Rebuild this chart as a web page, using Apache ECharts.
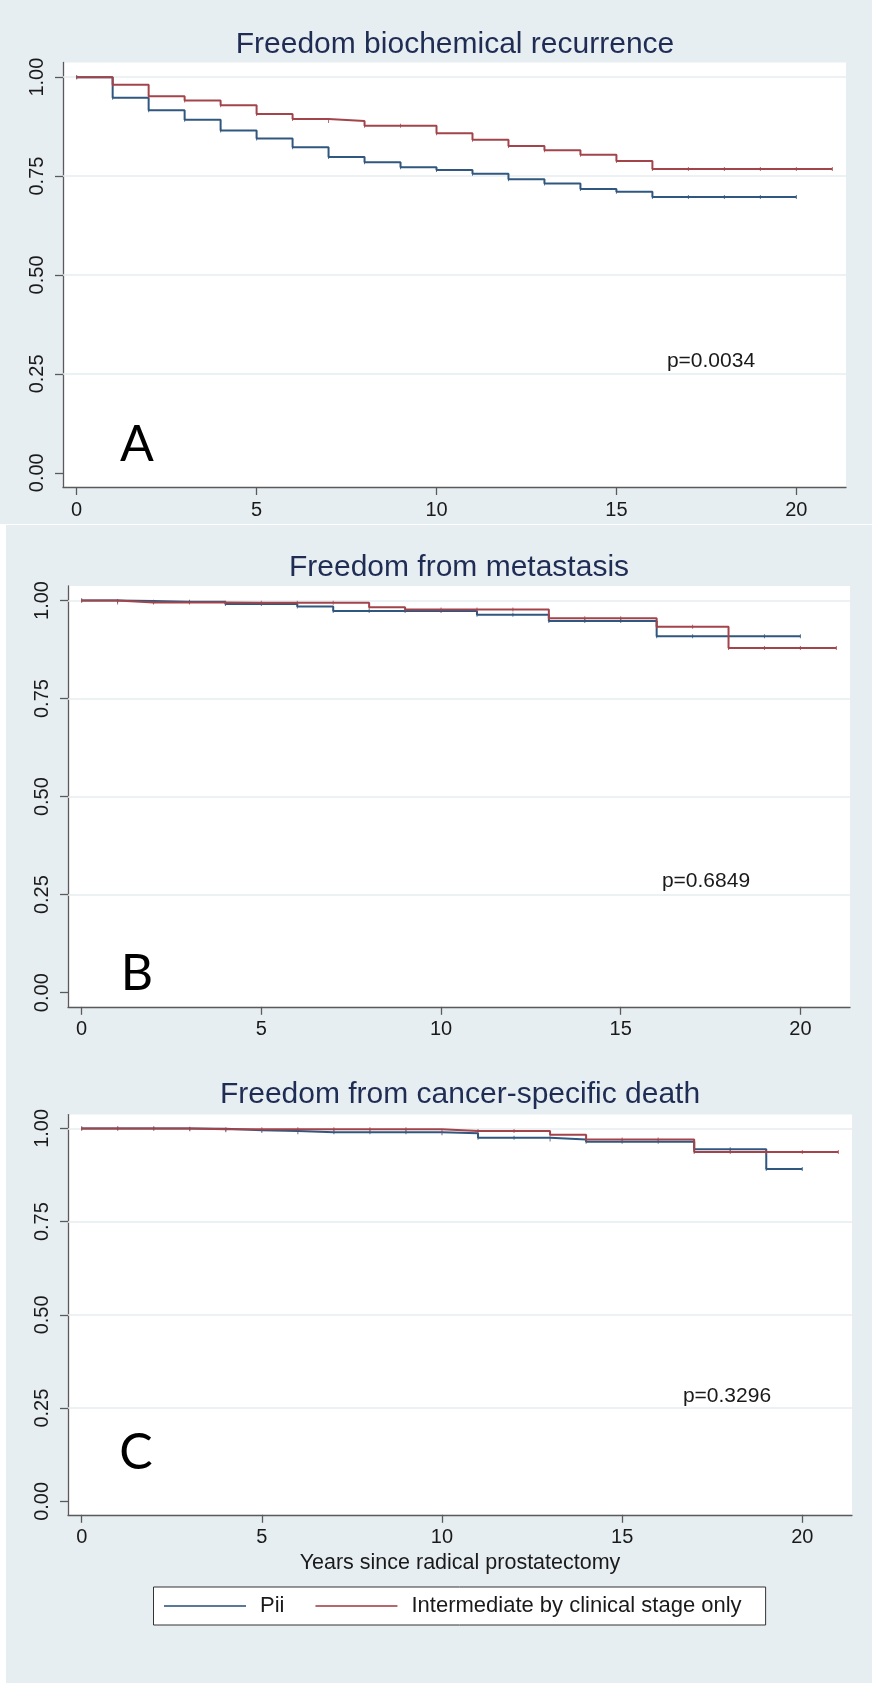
<!DOCTYPE html>
<html>
<head>
<meta charset="utf-8">
<script src="https://cdn.jsdelivr.net/npm/echarts@6/dist/echarts.min.js"></script>
<style>
  html, body { margin: 0; padding: 0; background: #ffffff; }
  #wrap { position: relative; width: 872px; height: 1683px; }
  .bg { position: absolute; background: #e7eef1; }
  #chart { position: absolute; left: 0; top: 0; width: 872px; height: 1683px; }
</style>
</head>
<body>
<div id="wrap">
  <div class="bg" style="left:0;top:0;width:872px;height:524px;"></div>
  <div class="bg" style="left:6px;top:525px;width:866px;height:1158px;"></div>
  <div id="chart"></div>
</div>
<script>
// ---- data ----
const years = [0,1,2,3,4,5,6,7,8,9,10,11,12,13,14,15,16,17,18,19,20,21];
const xTicks = [0, 5, 10, 15, 20];
const yTicks = [0, 0.25, 0.5, 0.75, 1];
const seriesNames = ['Pii', 'Intermediate by clinical stage only'];
const panelTitles = ['Freedom biochemical recurrence', 'Freedom from metastasis', 'Freedom from cancer-specific death'];
const panelLetters = ['A', 'B', 'C'];
const pValues = ['p=0.0034', 'p=0.6849', 'p=0.3296'];
const xAxisTitle = 'Years since radical prostatectomy';

// value for interval [year, year+1); last entry closes the curve
const bcrPii = [1.000,0.948,0.916,0.892,0.865,0.845,0.823,0.798,0.785,0.772,0.765,0.756,0.742,0.731,0.717,0.710,0.697,0.697,0.697,0.697,0.697];
const bcrInt = [1.000,0.981,0.952,0.941,0.929,0.907,0.894,0.889,0.877,0.877,0.858,0.842,0.826,0.815,0.804,0.788,0.768,0.768,0.768,0.768,0.768,0.768];
const metPii = [1.000,0.999,0.997,0.997,0.991,0.991,0.985,0.973,0.973,0.973,0.973,0.964,0.964,0.948,0.948,0.948,0.909,0.909,0.909,0.909,0.909];
const metInt = [1.000,0.995,0.995,0.995,0.994,0.994,0.994,0.994,0.983,0.977,0.977,0.977,0.977,0.955,0.955,0.955,0.933,0.933,0.879,0.879,0.879,0.879];
const csdPii = [1.000,1.000,1.000,0.999,0.995,0.993,0.990,0.990,0.990,0.990,0.987,0.975,0.975,0.970,0.964,0.964,0.964,0.944,0.944,0.891,0.891];
const csdInt = [1.000,1.000,1.000,0.998,0.998,0.998,0.998,0.998,0.998,0.998,0.993,0.993,0.993,0.983,0.970,0.970,0.970,0.937,0.937,0.937,0.937,0.937];

// ---- styling / layout ----
const BLUE = '#30577f';
const RED = '#a3444b';
const FONT = '"Liberation Sans", Arial, sans-serif';
const grids = [
  { left: 63, top: 62.5, width: 783, height: 424.5 },
  { left: 68, top: 586, width: 782, height: 420.8 },
  { left: 68, top: 1114.6, width: 784, height: 400.2 }
];
const titleCenters = [[455, 29.5], [459, 552.5], [460, 1079.5]];
const pPos = [[711, 361], [706, 881], [727, 1396]];
const letterPos = [[137, 445], [137, 974], [136, 1453]];

const curves = [[bcrPii, bcrInt], [metPii, metInt], [csdPii, csdInt]];

const xAxes = grids.map((g, i) => ({
  type: 'value', gridIndex: i, min: -0.38, max: 21.38,
  axisLine: { show: true, onZero: false, lineStyle: { color: '#5a5a5a', width: 1.3 } },
  axisTick: { show: true, customValues: xTicks, length: 8, lineStyle: { color: '#5a5a5a', width: 1.3 } },
  axisLabel: { customValues: xTicks, fontSize: 20, fontFamily: FONT, color: '#1a1a1a', margin: 13 },
  splitLine: { show: false },
  name: i === 2 ? xAxisTitle : '',
  nameLocation: 'middle', nameGap: 37,
  nameTextStyle: { fontSize: 21.5, fontFamily: FONT, color: '#1a1a1a' }
}));
const yAxes = grids.map((g, i) => ({
  type: 'value', gridIndex: i, min: -0.036, max: 1.037,
  axisLine: { show: true, onZero: false, lineStyle: { color: '#5a5a5a', width: 1.3 } },
  axisTick: { show: true, customValues: yTicks, length: 8, lineStyle: { color: '#5a5a5a', width: 1.3 } },
  axisLabel: { customValues: yTicks, rotate: 90, fontSize: 20, fontFamily: FONT, color: '#1a1a1a', margin: 16,
    formatter: v => Number(v).toFixed(2) },
  splitLine: { show: false }
}));

const series = [];
curves.forEach((pair, i) => {
  pair.forEach((vals, k) => {
    const s = {
      type: 'line', name: seriesNames[k], xAxisIndex: i, yAxisIndex: i,
      data: vals.map((v, j) => [years[j], v]),
      step: 'end',
      symbol: 'rect', symbolSize: [1, 4], showSymbol: true,
      lineStyle: { width: 2, color: k === 0 ? BLUE : RED },
      itemStyle: { color: k === 0 ? BLUE : RED, opacity: 0.8 },
      z: k === 0 ? 2 : 3,
      silent: true, animation: false
    };
    if (k === 0) {
      s.markLine = {
        silent: true, z: 1, symbol: 'none', animation: false,
        label: { show: false },
        lineStyle: { color: '#e6eef0', width: 1.5, type: 'solid' },
        data: yTicks.filter(t => t > 0).map(t => ({ yAxis: t }))
      };
    }
    series.push(s);
  });
});

const titles = panelTitles.map((t, i) => ({
  text: t, left: titleCenters[i][0], top: titleCenters[i][1], textAlign: 'center', padding: 0,
  textStyle: { fontSize: 30, fontWeight: 'normal', fontFamily: FONT, color: '#1f2d55' }
}));

const graphicEls = [];
pValues.forEach((p, i) => {
  graphicEls.push({ type: 'text', x: pPos[i][0], y: pPos[i][1], silent: true,
    style: { text: p, font: '21px ' + FONT, fill: '#1a1a1a', align: 'center', verticalAlign: 'middle' } });
  graphicEls.push({ type: 'text', x: letterPos[i][0], y: letterPos[i][1], silent: true,
    style: { text: panelLetters[i], font: '50px Lato, "Open Sans", sans-serif', fill: '#000', align: 'center', verticalAlign: 'middle' } });
});

const chart = echarts.init(document.getElementById('chart'), null, { renderer: 'canvas' });
chart.setOption({
  backgroundColor: 'transparent',
  animation: false,
  title: titles,
  grid: grids.map(g => Object.assign({ show: true, backgroundColor: '#ffffff', borderWidth: 0 }, g)),
  xAxis: xAxes,
  yAxis: yAxes,
  legend: {
    data: seriesNames, left: 153.5, top: 1587, orient: 'horizontal',
    icon: 'rect', itemWidth: 82, itemHeight: 2, itemGap: 31,
    padding: [8, 24, 8, 10.5],
    borderColor: '#333', borderWidth: 1, backgroundColor: '#ffffff',
    textStyle: { fontSize: 22, fontFamily: FONT, color: '#1a1a1a', padding: [0, 0, 0, 9] },
    selectedMode: false
  },
  graphic: { elements: graphicEls },
  series: series
});
</script>
</body>
</html>
